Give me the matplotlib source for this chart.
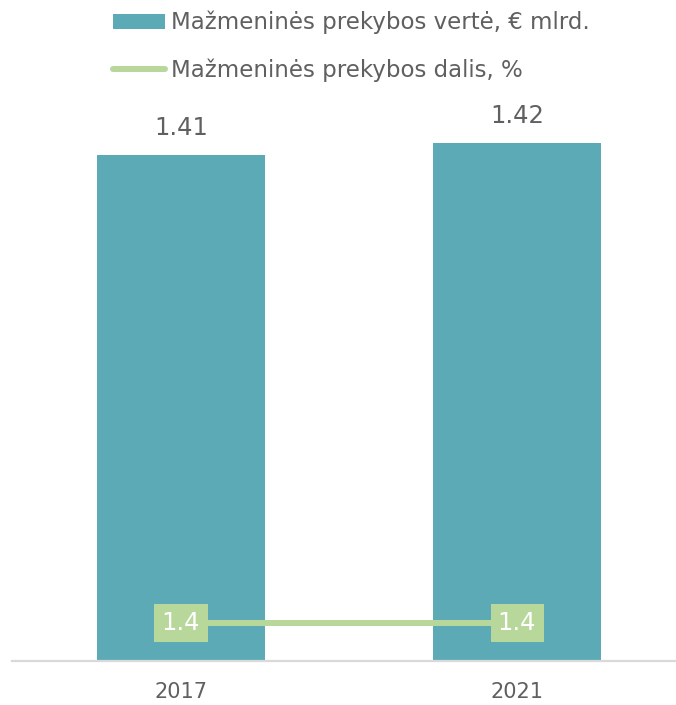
import matplotlib.pyplot as plt
from matplotlib.patches import Patch
from matplotlib.lines import Line2D

# Duomenys
metai = ["2017", "2021"]
verte_mlrd = [1.41, 1.42]        # Mažmeninės prekybos vertė, € mlrd.
dalis_proc = [1.4, 1.4]          # Mažmeninės prekybos dalis, %

ZALIA = "#5BAAB5"
SVIESI = "#B8D79A"
TEKSTAS = "#606060"

plt.rcParams['font.family'] = ['DejaVu Sans']

fig = plt.figure(figsize=(6.76, 7.05), dpi=100)
ax = fig.add_axes([12 / 676, 44 / 705, 664 / 676, 566 / 705])

x = list(range(len(metai)))
stulpeliai = ax.bar(x, verte_mlrd, width=0.5, color=ZALIA, zorder=2)
ax.set_xlim(-0.503, 1.473)
ax.set_ylim(0.98833, 1.46)

for st, v in zip(stulpeliai, verte_mlrd):
    ax.annotate(f"{v:.2f}", (st.get_x() + st.get_width() / 2, v),
                xytext=(0, 19.5), textcoords="offset points",
                ha="center", va="center", fontsize=17.5, color=TEKSTAS)

ax.set_xticks(x)
ax.set_xticklabels(metai, fontsize=15, color=TEKSTAS)
ax.tick_params(axis="x", length=0, pad=15)
ax.set_yticks([])
for s in ["top", "right", "left"]:
    ax.spines[s].set_visible(False)
ax.spines["bottom"].set_color("#D9D9D9")
ax.spines["bottom"].set_linewidth(1.6)

# Antroji ašis procentams
ax2 = ax.twinx()
ax2.set_ylim(0, 1.4 * 566 / 38)
ax2.plot(x, dalis_proc, color=SVIESI, linewidth=4.3, zorder=3)
for xi, v in zip(x, dalis_proc):
    ax2.text(xi, v, f"{v:.1f}", ha="center", va="center", fontsize=17.5,
             color="white", zorder=4,
             bbox=dict(boxstyle="square,pad=0.3", fc=SVIESI, ec="none"))
ax2.set_yticks([])
for s in ax2.spines.values():
    s.set_visible(False)

rankenos = [Patch(facecolor=ZALIA, edgecolor="none"),
            Line2D([0], [0], color=SVIESI, linewidth=4.3, solid_capstyle="round")]
zymes = ["Mažmeninės prekybos vertė, € mlrd.", "Mažmeninės prekybos dalis, %"]
fig.legend(rankenos, zymes, loc="upper left", bbox_to_anchor=(113 / 676, 1 - 11 / 705),
           frameon=False, fontsize=16.5, labelcolor=TEKSTAS, handlelength=2.27,
           handleheight=0.65, handletextpad=0.26, labelspacing=1.05,
           borderpad=0, borderaxespad=0)

fig.savefig("out.png", dpi=100)
